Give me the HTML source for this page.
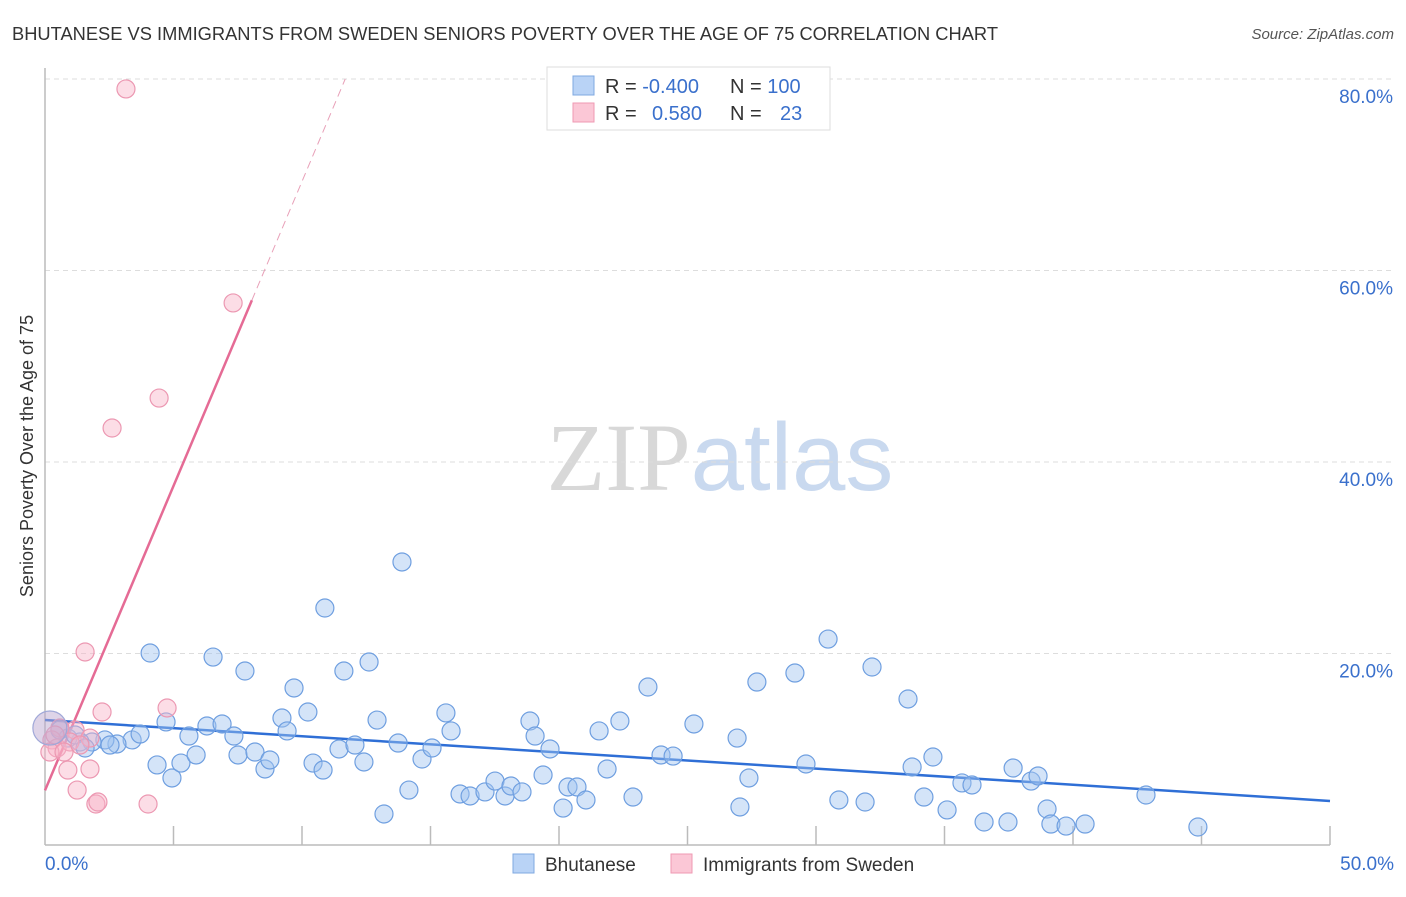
<!DOCTYPE html>
<html><head><meta charset="utf-8"><style>
body{margin:0;background:#fff;font-family:"Liberation Sans",sans-serif;}
</style></head><body>
<svg id="chart" width="1406" height="892" xmlns="http://www.w3.org/2000/svg" font-family="Liberation Sans, sans-serif">
<text x="12" y="40" font-size="18" fill="#333" textLength="986" lengthAdjust="spacingAndGlyphs">BHUTANESE VS IMMIGRANTS FROM SWEDEN SENIORS POVERTY OVER THE AGE OF 75 CORRELATION CHART</text>
<text x="1394" y="39" font-size="15" fill="#555" font-style="italic" text-anchor="end">Source: ZipAtlas.com</text>
<text x="720" y="490" font-size="96" text-anchor="middle"><tspan fill="#d8d8d8" font-family="Liberation Serif, serif">ZIP</tspan><tspan fill="#c9d9ef">atlas</tspan></text>
<text transform="translate(33,456) rotate(-90)" font-size="18" fill="#333" text-anchor="middle">Seniors Poverty Over the Age of 75</text>
<g id="grid"></g><g id="axes"></g><g id="lines"></g><g id="pts"></g>
<g>
<rect x="547" y="67" width="283" height="63" fill="#fff" stroke="#ddd"/>
<rect x="573" y="76" width="21" height="19" fill="#b9d3f6" stroke="#7fa8e0"/>
<rect x="573" y="103" width="21" height="19" fill="#fbc7d6" stroke="#ef9ab3"/>
<text x="605" y="93" font-size="20" fill="#333">R = <tspan fill="#3a70cc">-0.400</tspan></text>
<text x="730" y="93" font-size="20" fill="#333">N = <tspan fill="#3a70cc">100</tspan></text>
<text x="605" y="120" font-size="20" fill="#333">R = <tspan fill="#3a70cc" x="652">0.580</tspan></text>
<text x="730" y="120" font-size="20" fill="#333">N = <tspan fill="#3a70cc" x="780">23</tspan></text>
</g>
<g>
<rect x="513" y="854" width="21" height="19" fill="#b9d3f6" stroke="#7fa8e0"/>
<text x="545" y="871" font-size="19" fill="#333">Bhutanese</text>
<rect x="671" y="854" width="21" height="19" fill="#fbc7d6" stroke="#ef9ab3"/>
<text x="703" y="871" font-size="19" fill="#333">Immigrants from Sweden</text>
</g>
</svg>
<script>
const blueX=[4.09,6.54,7.78,10.89,13.89,12.61,11.63,9.69,10.23,9.22,9.42,6.30,6.89,4.71,5.60,7.35,3.39,2.80,2.33,1.83,1.36,0.89,0.58,3.70,4.36,4.94,5.29,5.88,7.51,8.17,8.56,8.75,10.43,10.82,11.44,12.06,12.41,12.92,13.74,14.16,13.19,14.67,15.06,15.60,15.80,16.15,16.54,17.12,17.51,17.90,18.13,18.56,18.87,19.07,19.38,19.65,20.16,20.35,20.70,21.05,21.56,21.87,22.37,22.88,23.46,23.97,24.44,25.25,26.93,27.04,27.39,27.70,29.18,29.61,30.47,30.89,31.91,32.18,33.58,33.74,34.20,34.55,35.10,35.68,36.07,36.54,37.47,37.67,38.37,38.64,38.99,39.14,39.73,40.47,42.84,44.86,1.17,1.56,2.53];
const blueY=[20.05,19.63,18.17,24.75,29.56,19.11,18.17,16.40,13.89,13.26,11.91,12.43,12.64,12.85,11.38,11.38,10.97,10.55,10.97,10.76,10.76,11.17,12.01,11.59,8.36,7.00,8.56,9.40,9.40,9.71,7.94,8.88,8.56,7.83,10.03,10.44,8.67,13.05,10.65,5.74,3.24,8.98,10.13,13.79,11.91,5.33,5.12,5.54,6.68,5.12,6.16,5.54,12.95,11.38,7.31,10.03,3.86,6.06,6.06,4.70,11.91,7.94,12.95,5.01,16.50,9.40,9.29,12.64,11.17,3.97,7.00,17.02,17.96,8.46,21.51,4.70,4.49,18.59,15.25,8.15,5.01,9.19,3.66,6.48,6.27,2.40,2.40,8.04,6.68,7.21,3.76,2.19,1.98,2.19,5.22,1.88,11.49,10.13,10.44];
const pinkX=[3.15,7.32,4.44,2.61,1.56,4.75,2.22,1.17,0.58,0.27,0.47,0.19,0.97,1.75,0.74,0.89,1.75,1.25,1.98,2.06,4.01,0.39,1.36];
const pinkY=[78.96,56.61,46.68,43.55,20.16,14.31,13.89,12.01,12.22,10.97,10.13,9.71,10.76,11.17,9.71,7.83,7.94,5.74,4.28,4.49,4.28,11.49,10.44];
const bigX=[0.19],bigY=[12.22];
const blueTrend=[13.05,4.6];
const pinkTrend=[5.7,6.36];
const yTicks=[20,40,60,80];
const xTickLabels=["0.0%","50.0%"];
const NS="http://www.w3.org/2000/svg";
const sx=v=>45+v*25.7, sy=v=>845-v*9.575;
function mk(p,t,a){const e=document.createElementNS(NS,t);for(const k in a)e.setAttribute(k,a[k]);document.getElementById(p).appendChild(e);return e;}
yTicks.forEach(t=>{
 const l=mk('grid','line',{x1:45,x2:1394,y1:sy(t),y2:sy(t),stroke:'#ddd','stroke-dasharray':'5,4'});
 
 
 const tx=mk('grid','text',{x:1393,y:sy(t)+24,'font-size':19,fill:'#3a70cc','text-anchor':'end'});
 tx.textContent=t.toFixed(1)+'%';
 
 
});
mk('axes','line',{x1:45,x2:45,y1:68,y2:845,stroke:'#bbb','stroke-width':1.5});
mk('axes','line',{x1:45,x2:1330,y1:845,y2:845,stroke:'#bbb','stroke-width':1.5});
for(let i=1;i<=10;i++){mk('axes','line',{x1:sx(i*5),x2:sx(i*5),y1:826,y2:845,stroke:'#bbb','stroke-width':1.5});}
[[0,'start',45],[50,'end',1394]].forEach((d,i)=>{const t=mk('axes','text',{x:d[2],y:870,'font-size':19,fill:'#3a70cc','text-anchor':d[1]});t.textContent=xTickLabels[i];
 
 });
function dots(X,Y,fill,stroke,r,name){X.forEach((x,i)=>{const c=mk('pts','circle',{cx:sx(x),cy:sy(Y[i]),r:r,fill:fill,stroke:stroke,'stroke-width':1.2});
 
 });}
dots(blueX,blueY,'rgba(160,196,240,0.45)','#6f9fe0',9,'bhutanese-point');
dots(pinkX,pinkY,'rgba(248,180,200,0.45)','#ec98b2',9,'sweden-point');
dots(bigX,bigY,'rgba(190,170,210,0.5)','#a0a8d8',17,'bhutanese-large-point');
const bl=mk('lines','line',{x1:sx(0),y1:sy(blueTrend[0]),x2:sx(50),y2:sy(blueTrend[1]),stroke:'#2f6fd6','stroke-width':2.5});


const xEnd=8.05, xTop=(80-pinkTrend[0])/pinkTrend[1];
const pl=mk('lines','line',{x1:sx(0),y1:sy(pinkTrend[0]),x2:sx(xEnd),y2:sy(pinkTrend[0]+pinkTrend[1]*xEnd),stroke:'#e56b95','stroke-width':2.5});


const pd=mk('lines','line',{x1:sx(xEnd),y1:sy(pinkTrend[0]+pinkTrend[1]*xEnd),x2:sx(xTop),y2:sy(80),stroke:'#e8a0b8','stroke-width':1,'stroke-dasharray':'8,5'});


</script>
</body></html>
